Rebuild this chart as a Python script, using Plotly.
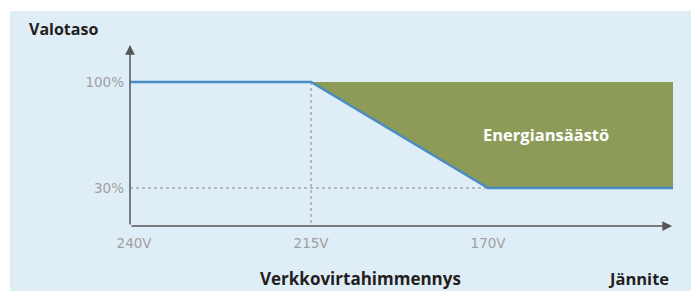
import plotly.graph_objects as go

# ---- data ----
voltage_labels = ["240V", "215V", "170V"]      # x-axis tick labels (schematic, evenly spaced)
light_levels = [100, 100, 30]                    # light level (%) at each voltage breakpoint
level_ticks = [100, 30]
level_tick_labels = ["100%", "30%"]
y_title = "Valotaso"
x_title = "Verkkovirtahimmennys"
x_unit_title = "Jännite"
savings_label = "Energiansäästö"

# ---- layout constants ----
x_range = [-0.023, 3.045]
y_range = [4.9, 126.4]
idx = list(range(len(voltage_labels)))

BG = "#dfedf7"
GREEN = "#8c9c58"
BLUE = "#4a8cc4"
DOT = "#a8a8a8"
AXIS = "#555555"
TXT = "#231f20"
TICK = "#a0a0a0"

# line: starts at left edge with first level, ends at right edge with last level
line_x = [x_range[0]] + idx + [x_range[1]]
line_y = [light_levels[0]] + light_levels + [light_levels[-1]]

# savings area: between 100% level and the line from the dimming start point
start = 1
top_x = [idx[start], x_range[1]]
top_y = [light_levels[0], light_levels[0]]
bot_x = idx[start:] + [x_range[1]]
bot_y = light_levels[start:] + [light_levels[-1]]

fig = go.Figure()

# dotted guide lines
fig.add_trace(go.Scatter(x=[idx[start], idx[start]], y=[light_levels[start], y_range[0]],
                         mode="lines", line=dict(color=DOT, width=1.5, dash="dot"),
                         hoverinfo="skip", showlegend=False))
fig.add_trace(go.Scatter(x=[x_range[0], idx[-1]], y=[light_levels[-1], light_levels[-1]],
                         mode="lines", line=dict(color=DOT, width=1.5, dash="dot"),
                         hoverinfo="skip", showlegend=False))

# fill area
fig.add_trace(go.Scatter(x=top_x, y=top_y, mode="lines", line=dict(width=0, color=GREEN),
                         hoverinfo="skip", showlegend=False))
fig.add_trace(go.Scatter(x=bot_x, y=bot_y, mode="lines", line=dict(width=0, color=GREEN),
                         fill="tonexty", fillcolor=GREEN, hoverinfo="skip", showlegend=False))

# main line
fig.add_trace(go.Scatter(x=line_x, y=line_y, mode="lines",
                         line=dict(color=BLUE, width=2.5), showlegend=False))

ann = []
# axis arrows
ann.append(dict(x=x_range[0], y=124.4, ax=x_range[0], ay=y_range[0], xref="x", yref="y",
                axref="x", ayref="y", showarrow=True, arrowhead=2, arrowsize=1.3,
                arrowwidth=1.5, arrowcolor=AXIS, text="", standoff=0))
ann.append(dict(x=3.04, y=y_range[0], ax=x_range[0], ay=y_range[0], xref="x", yref="y",
                axref="x", ayref="y", showarrow=True, arrowhead=2, arrowsize=1.3,
                arrowwidth=1.5, arrowcolor=AXIS, text="", standoff=0))

ann.append(dict(text=y_title, x=-0.19, y=1.071, xref="paper", yref="paper",
                xanchor="left", yanchor="middle", showarrow=False,
                font=dict(family="Open Sans", size=16, color=TXT, weight="bold")))
ann.append(dict(text=x_title, x=0.2357, y=-0.283, xref="paper", yref="paper",
                xanchor="left", yanchor="middle", showarrow=False,
                font=dict(family="Open Sans", size=17, color=TXT, weight="bold")))
ann.append(dict(text=x_unit_title, x=0.9963, y=-0.283, xref="paper", yref="paper",
                xanchor="right", yanchor="middle", showarrow=False,
                font=dict(family="Open Sans", size=16.5, color=TXT, weight="bold")))
ann.append(dict(text=savings_label, x=2.33, y=65, xref="x", yref="y",
                xanchor="center", yanchor="middle", showarrow=False,
                font=dict(family="Open Sans", size=16.5, color="white", weight="bold")))

fig.update_layout(
    width=691, height=291,
    margin=dict(l=130, r=18, t=42, b=65),
    paper_bgcolor="white",
    plot_bgcolor="white",
    annotations=ann,
    shapes=[dict(type="rect", xref="paper", yref="paper",
                 x0=-0.221, x1=1.04, y0=-0.36, y1=1.168,
                 fillcolor=BG, line=dict(width=0), layer="below")],
    xaxis=dict(range=x_range, tickvals=idx, ticktext=voltage_labels,
               showgrid=False, zeroline=False, showline=False, ticks="",
               tickfont=dict(family="DejaVu Sans", size=13.5, color=TICK),
               ticklabelstandoff=7),
    yaxis=dict(range=y_range, tickvals=level_ticks, ticktext=level_tick_labels,
               showgrid=False, zeroline=False, showline=False, ticks="",
               tickfont=dict(family="DejaVu Sans", size=13.5, color=TICK),
               ticklabelstandoff=5),
    showlegend=False,
)

fig.write_html("out.html", config={"displayModeBar": False},
               post_script="document.body.style.margin='0';")
